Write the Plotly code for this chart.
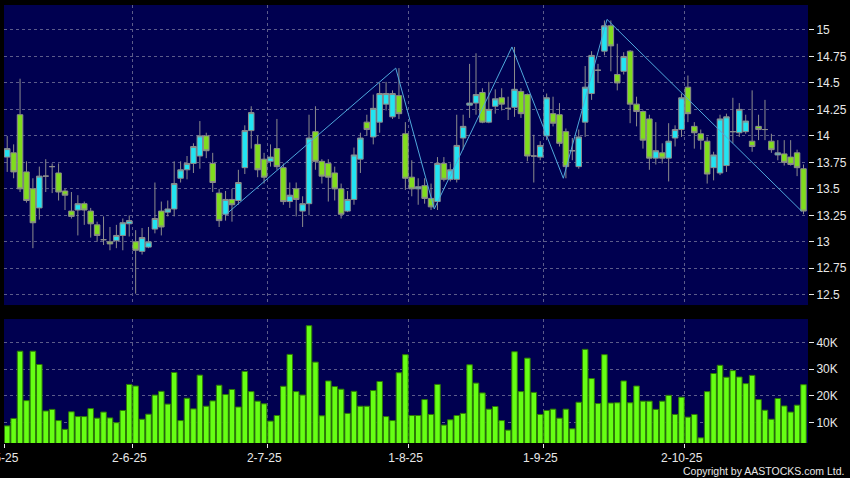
import plotly.graph_objects as go

# ---------------- data ----------------
open_ = [13.80,13.84,14.20,13.66,13.50,13.32,13.62,13.71,13.65,13.48,
         13.29,13.30,13.36,13.29,13.16,13.02,13.00,13.01,13.06,13.17,
         13.00,12.91,12.95,13.12,13.29,13.28,13.31,13.60,13.68,13.74,
         13.81,14.00,13.74,13.46,13.26,13.40,13.39,13.70,14.05,13.92,
         13.78,13.76,13.88,13.70,13.38,13.50,13.29,13.36,14.04,13.76,
         13.74,13.65,13.50,13.29,13.40,13.78,14.13,13.99,14.13,14.30,
         14.18,14.38,14.02,13.61,13.50,13.53,13.41,13.38,13.74,13.59,
         13.59,13.98,14.29,14.31,14.41,14.13,14.28,14.36,14.26,14.27,
         14.42,14.39,13.81,13.80,14.00,14.21,14.20,14.04,13.86,13.71,
         14.13,14.40,14.62,14.80,15.04,14.58,14.61,14.80,14.30,14.23,
         14.16,13.79,13.84,13.79,13.98,14.06,14.46,14.09,14.02,13.95,
         13.70,13.65,13.72,14.04,14.03,14.04,13.95,14.09,14.06,13.95,
         13.82,13.83,13.80,13.84,13.69]
high = [14.00,13.92,14.54,13.76,13.60,13.71,13.78,13.74,13.74,13.50,
        13.47,13.44,13.38,13.32,13.19,13.24,13.14,13.16,13.22,13.25,
        13.11,13.13,13.14,13.56,13.38,13.39,13.76,13.76,13.81,13.93,
        14.14,14.03,13.84,13.50,13.48,13.50,13.68,14.10,14.28,14.00,
        13.84,13.92,14.16,13.74,13.56,13.56,13.43,14.20,14.28,13.78,
        13.78,13.71,13.55,13.48,13.89,14.03,14.20,14.39,14.50,14.51,
        14.43,14.64,14.13,13.77,13.60,13.60,13.55,13.80,13.80,13.74,
        14.20,14.20,14.68,14.78,14.45,14.51,14.44,14.45,14.37,14.84,
        14.45,14.40,14.01,13.95,14.40,14.37,14.31,14.07,13.98,14.06,
        14.66,14.80,14.68,15.09,15.09,14.87,14.79,14.81,14.37,14.24,
        14.20,14.13,13.93,14.12,14.10,14.40,14.57,14.13,14.06,13.99,
        13.85,14.20,14.21,14.36,14.31,14.20,14.43,14.20,14.34,14.02,
        13.96,13.96,13.96,13.87,13.73]
low = [13.66,13.60,13.47,13.37,12.94,13.21,13.47,13.46,13.39,13.30,
       13.22,13.06,13.16,13.04,13.00,12.97,12.92,12.94,12.92,13.05,
       12.51,12.88,12.94,13.08,13.06,13.24,13.24,13.56,13.59,13.65,
       13.69,13.79,13.47,13.14,13.20,13.19,13.35,13.64,13.88,13.61,
       13.55,13.71,13.68,13.35,13.32,13.24,13.14,13.25,13.68,13.55,
       13.38,13.39,13.22,13.28,13.35,13.65,14.00,13.92,14.03,14.24,
       14.16,14.16,13.49,13.43,13.35,13.36,13.30,13.30,13.57,13.57,
       13.56,13.87,14.17,14.20,14.12,14.12,14.21,14.24,14.15,14.18,
       14.17,13.76,13.56,13.77,13.96,14.09,13.90,13.60,13.77,13.69,
       13.99,14.34,14.50,14.76,14.61,14.43,14.58,14.12,14.09,13.88,
       13.68,13.73,13.74,13.57,13.90,13.99,14.13,13.88,13.87,13.55,
       13.58,13.63,13.66,13.93,13.99,14.02,13.85,13.96,13.96,13.84,
       13.77,13.72,13.72,13.62,13.26]
close = [13.88,13.66,13.50,13.39,13.18,13.62,13.62,13.71,13.47,13.44,
         13.24,13.36,13.30,13.17,13.06,13.02,12.98,13.06,13.18,13.20,
         12.92,13.04,13.00,13.22,13.14,13.31,13.55,13.68,13.74,13.90,
         14.00,13.86,13.56,13.20,13.40,13.35,13.56,14.05,14.22,13.68,
         13.61,13.80,13.71,13.38,13.44,13.40,13.36,13.98,13.76,13.62,
         13.61,13.50,13.26,13.40,13.82,13.98,14.06,14.26,14.40,14.40,
         14.40,14.21,13.60,13.50,13.52,13.41,13.33,13.74,13.59,13.68,
         13.91,14.09,14.31,14.39,14.13,14.25,14.35,14.30,14.26,14.44,
         14.21,13.81,13.81,13.91,14.36,14.12,13.93,13.71,13.86,13.99,
         14.46,14.76,14.62,15.04,14.85,14.50,14.75,14.30,14.23,13.96,
         13.79,13.86,13.79,13.95,14.06,14.36,14.21,14.03,13.96,13.64,
         13.82,14.16,14.18,14.04,14.25,14.14,13.90,14.06,14.06,13.87,
         13.84,13.75,13.73,13.70,13.29]
volume = [8700,11500,36800,18200,36800,31800,14300,14900,10700,7400,
          14000,12200,12200,15200,11600,13900,11700,9900,14500,24300,
          23700,11200,13100,20300,21700,16900,28800,10700,19100,15100,
          27800,16100,18100,24000,20500,22400,15800,29200,21600,18000,
          17000,10500,12600,23600,35600,21600,20300,46400,32700,12500,
          25600,23500,22500,13400,21700,16100,16100,22000,25400,12200,
          10700,28700,35500,12600,12600,18600,13000,24300,9000,11000,
          12600,13400,31700,24800,21100,15000,16000,10700,7100,36600,
          21600,34200,21300,13000,14500,15000,11600,15000,7600,17600,
          37500,26500,17100,35500,17300,17400,25600,17400,23700,18000,
          18000,14900,18000,20200,13000,19500,12000,13000,4200,21600,
          28400,31500,27000,29500,27100,24600,27700,18600,14600,11200,
          19000,16200,13900,16500,24200]
day_index = list(range(len(close)))

# zigzag overlay (turning points)
zigzag_x = [33.9, 60.5, 66.5, 78.6, 86.6, 93.4, 123.7]
zigzag_y = [13.25, 14.64, 13.31, 14.84, 13.60, 15.10, 13.29]

# axis ticks
date_tick_pos = [-0.5, 19.5, 40.5, 62.5, 83.5, 105.5]
date_tick_text = ["2-5-25", "2-6-25", "2-7-25", "1-8-25", "1-9-25", "2-10-25"]
price_ticks = [12.5, 12.75, 13, 13.25, 13.5, 13.75, 14, 14.25, 14.5, 14.75, 15]
price_tick_text = ["12.5", "12.75", "13", "13.25", "13.5", "13.75", "14", "14.25", "14.5", "14.75", "15"]
vol_ticks = [10000, 20000, 30000, 40000]
vol_tick_text = ["10K", "20K", "30K", "40K"]

# ---------------- style ----------------
NAVY = "#000050"
CYAN = "#22e4f2"
GREEN = "#80dc1e"
OUTLINE = "#8c8c8c"
ZIG = "#4fa8dc"
VOLFILL = "#66ff14"
VOLEDGE = "#2e7a06"
GRID = "#5c5c8a"
TXT = "#e8e8e8"
FONT = "Liberation Sans, Arial, sans-serif"
XRANGE = [-0.5, 124.7]

fig = go.Figure()
fig.add_trace(go.Candlestick(
    x=day_index, open=open_, high=high, low=low, close=close,
    xaxis="x", yaxis="y", whiskerwidth=0,
    increasing=dict(fillcolor=CYAN, line=dict(color=OUTLINE, width=1)),
    decreasing=dict(fillcolor=GREEN, line=dict(color=OUTLINE, width=1)),
    showlegend=False, hoverinfo="skip"))
fig.add_trace(go.Scatter(
    x=zigzag_x, y=zigzag_y, mode="lines", xaxis="x", yaxis="y",
    line=dict(color=ZIG, width=1), showlegend=False, hoverinfo="skip"))
fig.add_trace(go.Bar(
    x=day_index, y=volume, xaxis="x2", yaxis="y2",
    marker=dict(color=VOLFILL, line=dict(color=VOLEDGE, width=1)),
    showlegend=False, hoverinfo="skip"))

axis_common = dict(showgrid=True, gridcolor=GRID, griddash="3px,3px", gridwidth=1,
                   zeroline=False, showline=False)

fig.update_layout(
    width=850, height=478,
    margin=dict(l=4, r=42, t=5, b=35, autoexpand=False),
    paper_bgcolor="black", plot_bgcolor=NAVY,
    font=dict(family=FONT, size=12, color=TXT),
    bargap=0.14, boxgap=0.14, boxgroupgap=0,
    xaxis=dict(domain=[0, 1], anchor="y", range=XRANGE,
               tickmode="array", tickvals=date_tick_pos, showticklabels=False,
               ticks="", rangeslider=dict(visible=False), **axis_common),
    xaxis2=dict(domain=[0, 1], anchor="y2", matches="x", range=XRANGE,
                tickmode="array", tickvals=date_tick_pos, ticktext=date_tick_text,
                ticks="outside", ticklen=4, tickcolor=TXT, ticklabeloverflow="allow",
                ticklabelshift=-3, **axis_common),
    yaxis=dict(domain=[0.315, 1.0], anchor="x", side="right", range=[12.403, 15.236],
               tickmode="array", tickvals=price_ticks, ticktext=price_tick_text,
               ticks="outside", ticklen=5, tickcolor=TXT, **axis_common),
    yaxis2=dict(domain=[0, 0.283], anchor="x2", side="right", range=[2260, 48900],
                tickmode="array", tickvals=vol_ticks, ticktext=vol_tick_text,
                ticks="outside", ticklen=5, tickcolor=TXT, **axis_common),
    annotations=[dict(text="Copyright by AASTOCKS.com Ltd.", xref="paper", yref="paper",
                      x=1.0475, y=-0.064, xanchor="right", yanchor="middle",
                      showarrow=False, font=dict(size=10.5, color=TXT, family=FONT))],
)

fig.write_html("out.html", config={"displayModeBar": False},
               post_script="document.body.style.margin='0';document.body.style.overflow='hidden';")
